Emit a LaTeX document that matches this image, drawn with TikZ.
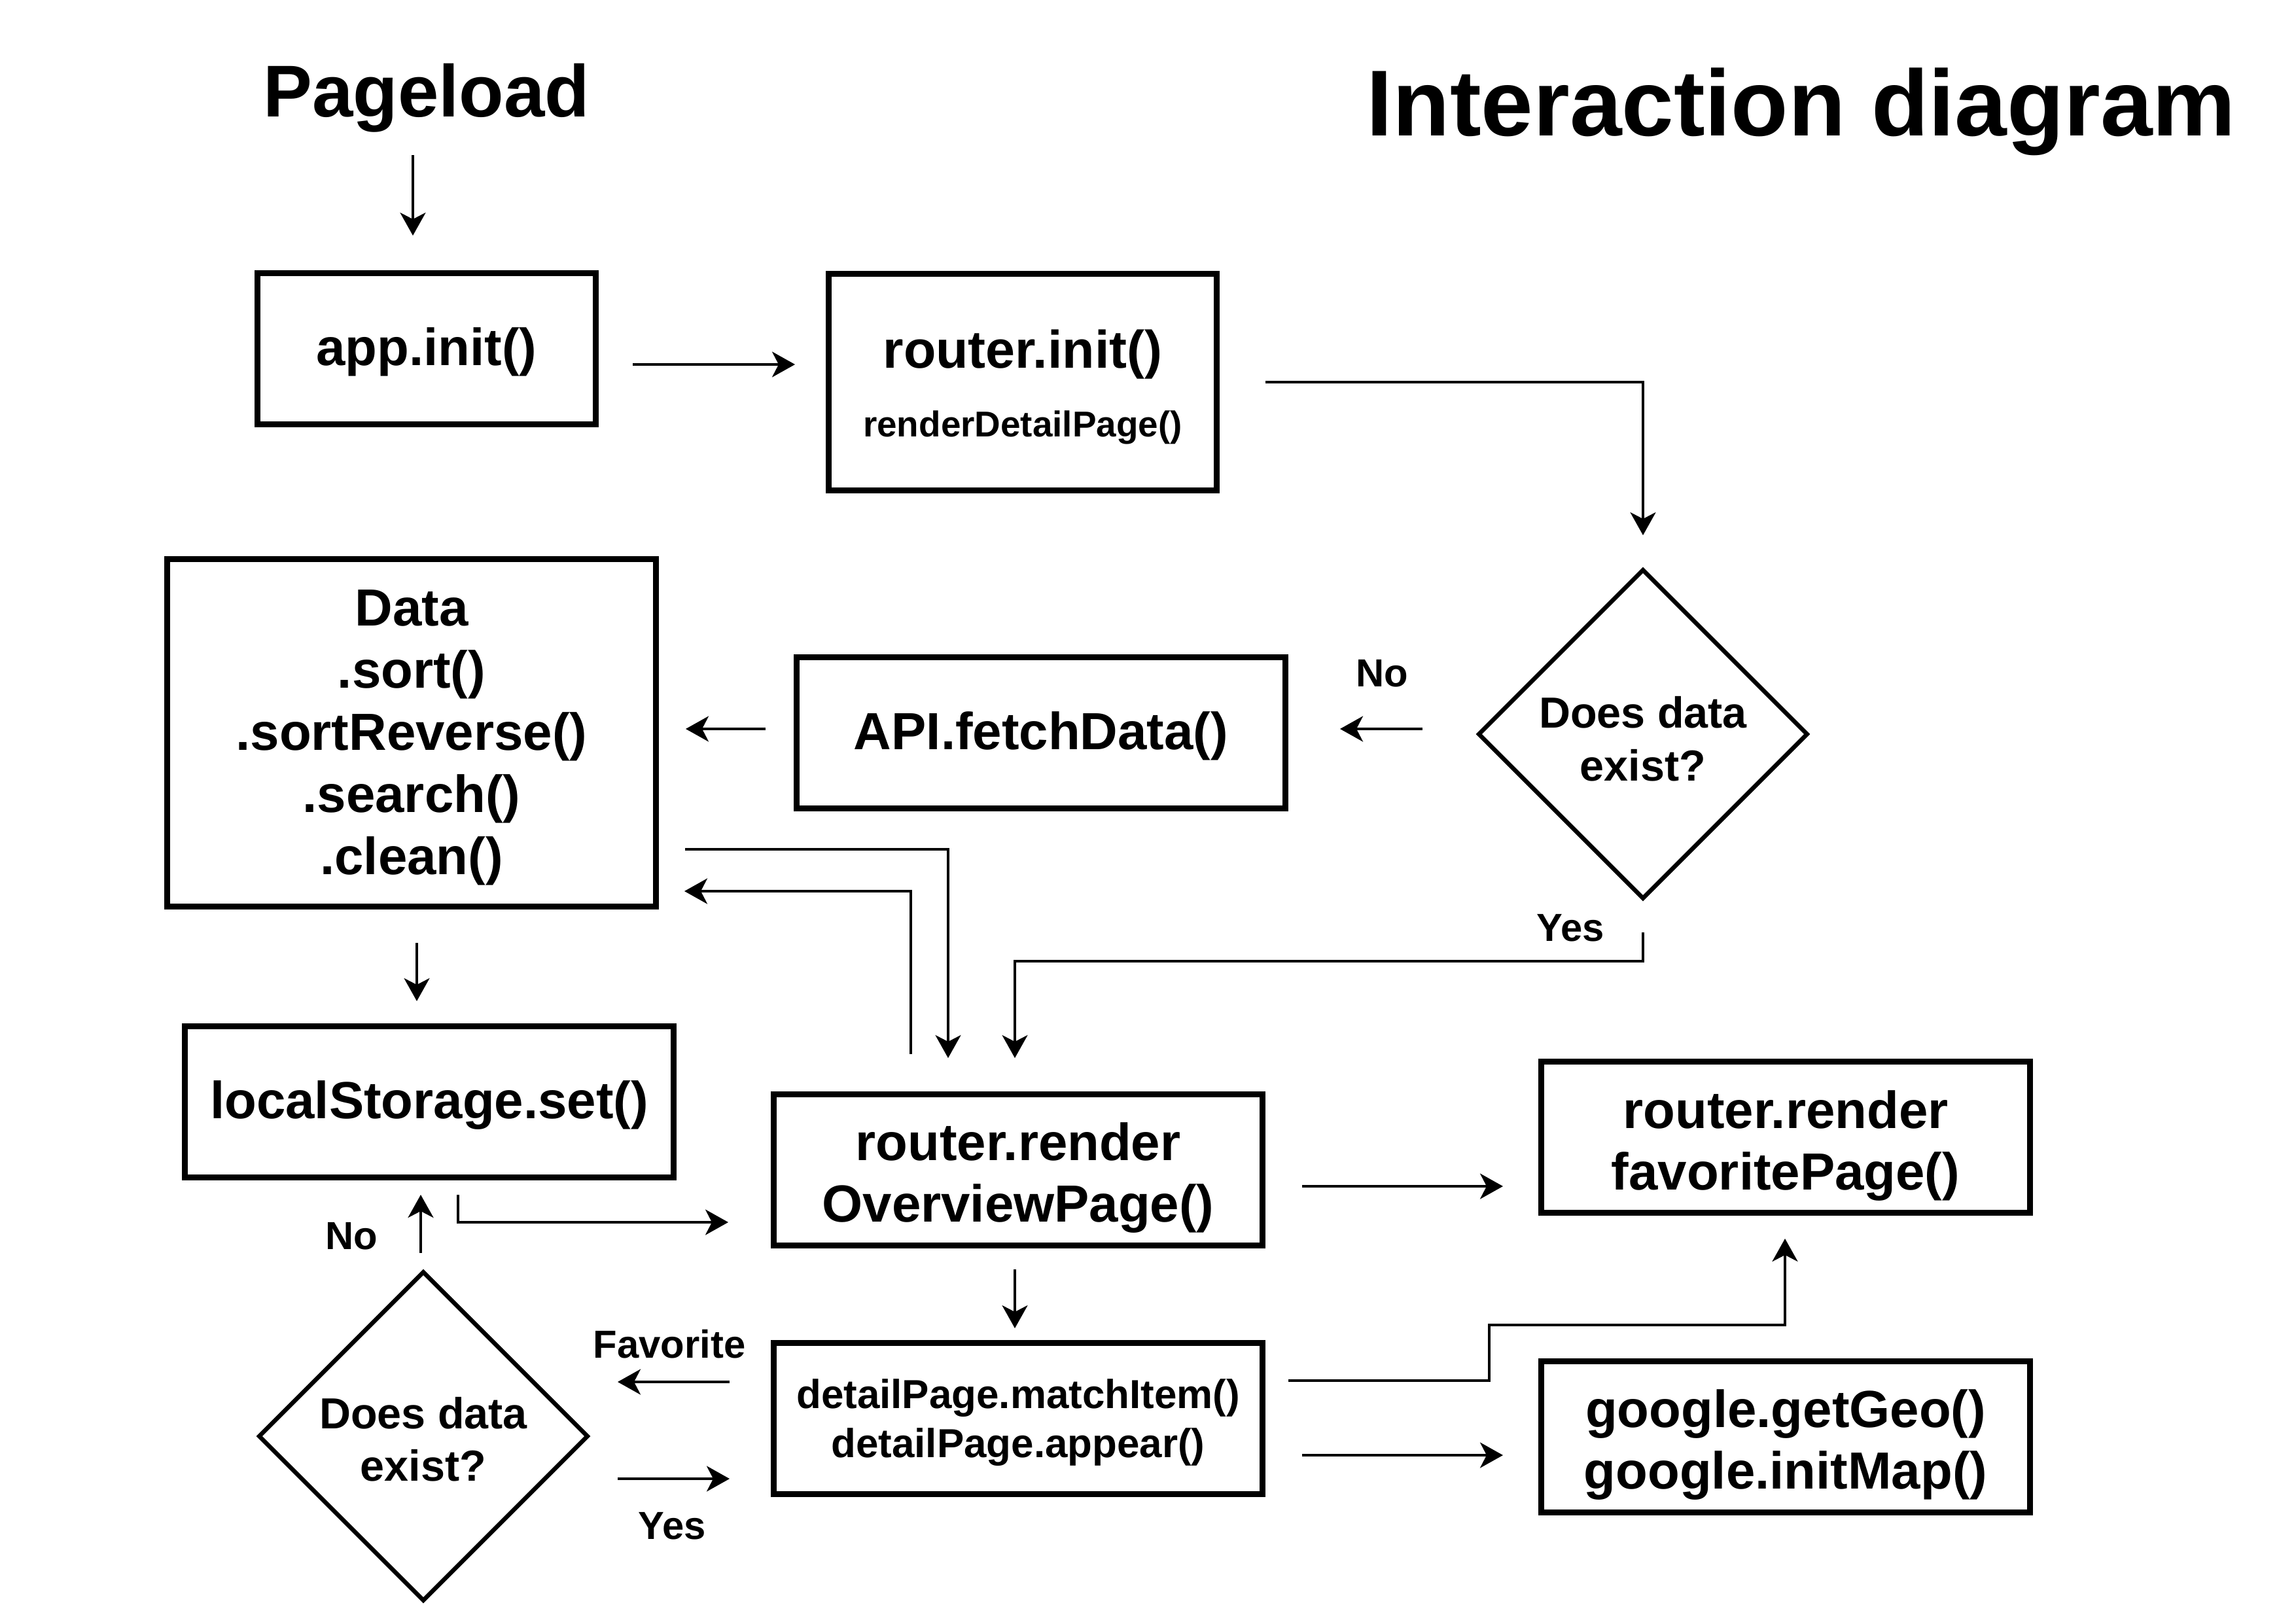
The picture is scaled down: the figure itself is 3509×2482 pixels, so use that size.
\documentclass[tikz,border=0pt]{standalone}
\usepackage{fontspec}
\setmainfont{Liberation Sans}
\usetikzlibrary{arrows.meta,shapes.geometric}
\newcommand\fsz[2]{\fontsize{#1}{#2}\selectfont}
\newcommand\ts[1]{\rule{0pt}{\dimexpr0.74em+#1\relax}}
\begin{document}
\begin{tikzpicture}[x=0.01cm,y=-0.01cm,
  box/.style={draw, line width=0.09cm, rectangle, inner sep=0pt, align=center,
    minimum width=7.47cm, minimum height=2.31cm, font=\bfseries\fsz{22.7}{26.7}},
  dia/.style={draw, line width=0.065cm, diamond, inner sep=0pt, align=center,
    minimum width=5.04cm, minimum height=5.04cm, font=\bfseries\fsz{18.9}{22.8}},
  lbl/.style={font=\bfseries\fsz{17}{20}, inner sep=0pt},
  arr/.style={line width=0.035cm, -{Stealth[length=0.35cm, width=0.39cm, inset=0.1cm]}}]

\fill[white] (0,0) rectangle (3509,2482);
\useasboundingbox (0,0) rectangle (3509,2482);

% titles
\node[font=\bfseries\fsz{40.7}{48}, anchor=base, inner sep=0pt] (title) at (2753,208) {Interaction diagram};
\node[font=\bfseries\fsz{31.9}{38}, anchor=base, inner sep=0pt] (pageload) at (652,179) {Pageload};

% boxes
\node[box, minimum width=5.17cm, minimum height=2.30cm] (app) at (652,533) {\ts{2.6pt}app.init()};
\node[box, minimum width=5.93cm, minimum height=3.31cm, font=\bfseries\fsz{23}{30}] (router) at (1563,584)
  {\ts{3.8pt}router.init()\\{\fsz{15.6}{30}renderDetailPage()}};
\node[box, minimum height=5.31cm, font=\bfseries\fsz{22.7}{27}] (data) at (629,1120)
  {\ts{3.2pt}Data\\.sort()\\.sortReverse()\\.search()\\.clean()};
\node[box] (api) at (1591,1120) {\ts{2.6pt}API.fetchData()};
\node[dia] (q1) at (2511,1122) {\ts{3.8pt}Does data\\exist?};
\node[box] (local) at (656,1684) {\ts{2.6pt}localStorage.set()};
\node[box] (overview) at (1556,1788) {\ts{6.4pt}router.render\\OverviewPage()};
\node[box] (fav) at (2729,1738) {\ts{7pt}router.render\\favoritePage()};
\node[box, font=\bfseries\fsz{17.6}{21.6}] (detail) at (1556,2168) {\ts{3.2pt}detailPage.matchItem()\\detailPage.appear()};
\node[box] (google) at (2729,2196) {\ts{6.4pt}google.getGeo()\\google.initMap()};
\node[dia] (q2) at (647,2195) {\ts{2.6pt}Does data\\exist?};

% labels
\node[lbl] (no1) at (2112,1029) {No};
\node[lbl] (yes1) at (2400,1418) {Yes};
\node[lbl] (no2) at (537,1889) {No};
\node[lbl] (favl) at (1023,2054) {Favorite};
\node[lbl] (yes2) at (1027,2332) {Yes};

% connector end points
\coordinate (a1s) at (631,237);   \coordinate (a1e) at (631,360);
\coordinate (a2s) at (967,557);   \coordinate (a2e) at (1215,557);
\coordinate (a3s) at (1934,584);  \coordinate (a3e) at (2511,818);
\coordinate (a4s) at (2174,1114); \coordinate (a4e) at (2048,1114);
\coordinate (a5s) at (1170,1114); \coordinate (a5e) at (1048,1114);
\coordinate (a6s) at (1047,1298); \coordinate (a6e) at (1449,1617);
\coordinate (a7s) at (1392,1611); \coordinate (a7e) at (1046,1362);
\coordinate (a8s) at (2511,1425); \coordinate (a8m) at (2511,1469); \coordinate (a8e) at (1551,1617);
\coordinate (a9s) at (637,1441);  \coordinate (a9e) at (637,1530);
\coordinate (a10s) at (643,1915); \coordinate (a10e) at (643,1826);
\coordinate (a11s) at (700,1826); \coordinate (a11e) at (1113,1868);
\coordinate (a12s) at (1551,1940);\coordinate (a12e) at (1551,2030);
\coordinate (a13s) at (1990,1813);\coordinate (a13e) at (2297,1813);
\coordinate (a14s) at (1969,2110);\coordinate (a14m) at (2276,2025); \coordinate (a14e) at (2728,1893);
\coordinate (a15s) at (1990,2224);\coordinate (a15e) at (2297,2224);
\coordinate (a16s) at (1115,2112);\coordinate (a16e) at (944,2112);
\coordinate (a17s) at (944,2260); \coordinate (a17e) at (1115,2260);

% connectors
\draw[arr] (a1s) -- (a1e);
\draw[arr] (a2s) -- (a2e);
\draw[arr] (a3s) -| (a3e);
\draw[arr] (a4s) -- (a4e);
\draw[arr] (a5s) -- (a5e);
\draw[arr] (a6s) -| (a6e);
\draw[arr] (a7s) |- (a7e);
\draw[arr] (a8s) -- (a8m) -| (a8e);
\draw[arr] (a9s) -- (a9e);
\draw[arr] (a10s) -- (a10e);
\draw[arr] (a11s) |- (a11e);
\draw[arr] (a12s) -- (a12e);
\draw[arr] (a13s) -- (a13e);
\draw[arr] (a14s) -| (a14m) -| (a14e);
\draw[arr] (a15s) -- (a15e);
\draw[arr] (a16s) -- (a16e);
\draw[arr] (a17s) -- (a17e);
\end{tikzpicture}
\end{document}
